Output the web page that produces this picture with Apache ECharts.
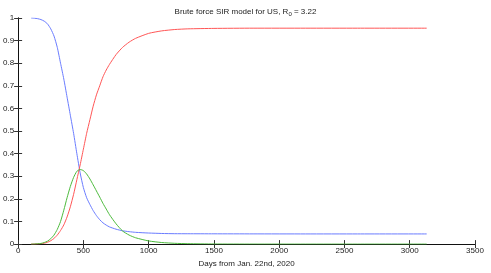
<!DOCTYPE html>
<html>
<head>
<meta charset="utf-8">
<script src="https://cdn.jsdelivr.net/npm/echarts@6/dist/echarts.min.js"></script>
<style>html,body{margin:0;padding:0;background:#fff}#c{width:491px;height:273px}</style>
</head>
<body>
<div id="c"></div>
<script>
const days = [100,125,150,175,200,225,250,275,300,325,350,375,400,425,450,475,500,525,550,575,600,625,650,675,700,750,800,850,900,1000,1100,1200,1300,1500,1800,2200,2600,3130];
const susceptible = [1.0,0.999,0.997,0.993,0.986,0.974,0.952,0.92,0.87,0.80,0.73,0.65,0.57,0.49,0.40,0.315,0.25,0.205,0.175,0.148,0.126,0.108,0.094,0.084,0.076,0.066,0.059,0.055,0.052,0.049,0.047,0.046,0.0458,0.0455,0.0452,0.045,0.045,0.045];
const infected = [0.0,0.0005,0.0015,0.003,0.007,0.013,0.024,0.04,0.065,0.10,0.15,0.205,0.255,0.295,0.322,0.33,0.325,0.31,0.288,0.262,0.235,0.208,0.18,0.155,0.13,0.09,0.058,0.04,0.028,0.014,0.007,0.0035,0.0018,0.0005,0.0001,0.0,0.0,0.0];
const recovered = [0.0,0.0003,0.001,0.002,0.004,0.008,0.015,0.025,0.04,0.06,0.085,0.12,0.165,0.22,0.285,0.35,0.42,0.49,0.55,0.61,0.66,0.70,0.74,0.77,0.795,0.838,0.87,0.893,0.91,0.932,0.943,0.949,0.952,0.954,0.955,0.955,0.955,0.955];
const xTicks = [0,500,1000,1500,2000,2500,3000,3500];
const yTicks = [0,0.1,0.2,0.3,0.4,0.5,0.6,0.7,0.8,0.9,1];

const pairs = arr => days.map((d,i)=>[d,arr[i]]);
const font = 'Liberation Sans';
const axisCommon = {
  axisLine:{show:true,lineStyle:{color:'#111',width:1}},
  axisTick:{show:true,inside:true,length:4,lineStyle:{color:'#333'}},
  splitLine:{show:false}
};
const chart = echarts.init(document.getElementById('c'));
chart.setOption({
  animation:false,
  backgroundColor:'#fff',
  title:{
    text:'Brute force SIR model for US, R{sub|0} = 3.22',
    left:'center', top:2,
    textStyle:{fontFamily:font,fontSize:8,fontWeight:'normal',color:'#222',
      rich:{sub:{fontFamily:font,fontSize:6,verticalAlign:'bottom',padding:[4,0,0,0],color:'#222'}}}
  },
  grid:{left:17,right:16,top:18,bottom:19,containLabel:false},
  xAxis:[
    Object.assign({type:'value',min:0,max:3500,interval:500,position:'bottom',
      name:'Days from Jan. 22nd, 2020',nameLocation:'middle',nameGap:13,
      nameTextStyle:{fontFamily:font,fontSize:8,color:'#222'},
      axisLabel:{fontFamily:font,fontSize:8,color:'#222',margin:3,
        formatter:v=>xTicks.includes(v)?String(v):''}},axisCommon),
    Object.assign({type:'value',min:0,max:3500,interval:500,position:'top',axisLabel:{show:false}},axisCommon)
  ],
  yAxis:[
    Object.assign({type:'value',min:0,max:1,interval:0.1,position:'left',
      axisLabel:{fontFamily:font,fontSize:8,color:'#222',margin:4,
        formatter:v=>{const t=yTicks.find(x=>Math.abs(x-v)<1e-9);return t===undefined?'':String(t);}}},axisCommon),
    Object.assign({type:'value',min:0,max:1,interval:0.1,position:'right',axisLabel:{show:false}},axisCommon)
  ],
  series:[
    {type:'line',name:'S',data:pairs(susceptible),smooth:0.2,showSymbol:false,lineStyle:{color:'#6a7cff',width:1},itemStyle:{color:'#6a7cff'}},
    {type:'line',name:'R',data:pairs(recovered),smooth:0.2,showSymbol:false,lineStyle:{color:'#ff5656',width:1},itemStyle:{color:'#ff5656'}},
    {type:'line',name:'I',data:pairs(infected),smooth:0.2,showSymbol:false,lineStyle:{color:'#4cba3c',width:1},itemStyle:{color:'#4cba3c'}}
  ]
});
</script>
</body>
</html>
